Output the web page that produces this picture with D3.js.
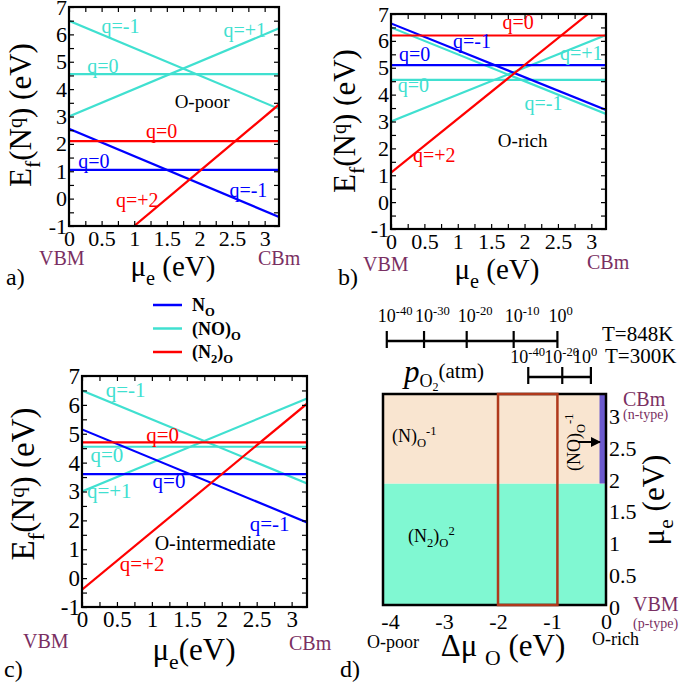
<!DOCTYPE html>
<html><head><meta charset="utf-8">
<script src="https://cdn.jsdelivr.net/npm/d3@7"></script>
<style>
body{margin:0;background:#fff}
svg{display:block}
text{font-family:'Liberation Serif','DejaVu Serif',serif}
</style>
</head><body><script>
// ---------------- DATA ----------------
const bandGap = 3.22;                       // mu_e range (VBM -> CBm), eV
const defectSpecies = ["N_O","N_O","(NO)_O","(NO)_O","(NO)_O","(N2)_O","(N2)_O"];
const defectCharges = [-1, 0, -1, 0, 1, 0, 2];
// formation energy at the VBM (mu_e = 0) for each defect/charge, eV
const formationAtVBM_Opoor = [2.55, 1.05, 6.5, 4.55, 3.0, 2.1, -3.0];
const formationAtVBM_Orich = [6.65, 5.1, 6.5, 4.55, 3.0, 6.2, 1.1];
const formationAtVBM_Ointer = [5.15, 3.6, 6.5, 4.55, 3.0, 4.7, -0.4];
const speciesNames = ["N_O", "(NO)_O", "(N2)_O"];
const speciesColors = ["#0000ff", "#40e0d0", "#ff0000"];
const muTickLabels = [0, 0.5, 1, 1.5, 2, 2.5, 3];
const energyTickLabels = [-1, 0, 1, 2, 3, 4, 5, 6, 7];

// charge-state annotations: [text, species, mu_e, E]
const labelsOpoor = [
  ["q=-1","(NO)_O",0.5,6.06],["q=+1","(NO)_O",2.37,5.91],["q=0","(NO)_O",0.28,4.59],
  ["q=0","(N2)_O",1.18,2.21],["q=0","N_O",0.14,1.11],["q=-1","N_O",2.46,0.05],
  ["q=+2","(N2)_O",0.72,-0.31]];
const labelsOrich = [
  ["q=0","(N2)_O",1.67,6.44],["q=-1","N_O",0.93,5.74],["q=0","N_O",0.12,5.25],
  ["q=+1","(NO)_O",2.53,5.29],["q=0","(NO)_O",0.10,4.1],["q=-1","(NO)_O",2.0,3.43],
  ["q=+2","(N2)_O",0.33,1.5]];
const labelsOinter = [
  ["q=-1","(NO)_O",0.34,6.27],["q=0","(N2)_O",0.92,4.73],["q=0","(NO)_O",0.12,4.03],
  ["q=0","N_O",1.01,3.11],["q=+1","(NO)_O",0.07,2.77],["q=-1","N_O",2.4,1.64],
  ["q=+2","(N2)_O",0.54,0.23]];

// phase diagram (panel d)
const dmuDomain = [-4.13, 0];
const dmuTickLabels = [-4, -3, -2, -1, 0];
const muE_dDomain = [0, 3.3];
const muE_dTickLabels = [0, 0.5, 1, 1.5, 2, 2.5, 3];
const phaseBoundaryMuE = 1.9;        // (N2)_O^+2 / N_O^-1 transition level
const noStripDmu = -0.12;            // (NO)_O^-1 stable region starts here
const highlightDmu = [-2.0, -0.9];   // red box
const pO2Exp848 = [-40, -30, -20, -10, 0];
const pO2Dmu848 = [-4.06, -3.37, -2.58, -1.71, -0.90];
const pO2Exp300 = [-40, -20, 0];
const pO2Dmu300 = [-1.44, -0.81, -0.28];

// ---------------- DRAWING ----------------
const FONT = "'Liberation Serif','DejaVu Serif',serif";
const svg = d3.select("body").append("svg").attr("width", 685).attr("height", 685)
  .attr("font-family", FONT);
const colorOf = sp => speciesColors[speciesNames.indexOf(sp)];
const PURPLE = "#7a2f62";

function richText(sel, parts, supShift) {
  let cur = 0;
  const base = parseFloat(sel.attr("font-size"));
  parts.forEach(([t, kind, f]) => {
    const fs = base * (f || 1);
    const target = kind === "sub" ? 0.3 * base : kind === "sup" ? -(supShift || 0.4) * base : 0;
    sel.append("tspan").attr("dy", target - cur).attr("font-size", fs).text(t);
    cur = target;
  });
}

function linePanel(o) {
  const x = d3.scaleLinear().domain([0, bandGap]).range([o.l, o.r]);
  const y = d3.scaleLinear().domain([-1, 7]).range([o.b, o.t]);
  const g = svg.append("g");
  g.append("clipPath").attr("id", o.id).append("rect")
    .attr("x", o.l).attr("y", o.t).attr("width", o.r - o.l).attr("height", o.b - o.t);

  const line = d3.line().x(d => x(d[0])).y(d => y(d[1]));
  const order = [2, 3, 4, 1, 0, 5, 6];
  g.append("g").attr("clip-path", `url(#${o.id})`).selectAll("path")
    .data(order).join("path")
    .attr("d", i => line([[0, o.e0[i]], [bandGap, o.e0[i] + defectCharges[i] * bandGap]]))
    .attr("fill", "none").attr("stroke", i => colorOf(defectSpecies[i])).attr("stroke-width", 2.2);

  const fmtX = v => muTickLabels.includes(v) ? String(v) : "";
  const fmtY = v => energyTickLabels.includes(v) ? String(v) : "";
  const xt = d3.range(0, bandGap, 0.25), yt = d3.range(-1, 7.01, 0.5);
  const ax = [
    g.append("g").attr("transform", `translate(0,${o.b})`).call(d3.axisBottom(x).tickValues(xt).tickFormat(fmtX).tickSizeInner(-5).tickSizeOuter(0).tickPadding(4)),
    g.append("g").attr("transform", `translate(0,${o.t})`).call(d3.axisTop(x).tickValues(xt).tickFormat("").tickSizeInner(-5).tickSizeOuter(0)),
    g.append("g").attr("transform", `translate(${o.l},0)`).call(d3.axisLeft(y).tickValues(yt).tickFormat(fmtY).tickSizeInner(-5).tickSizeOuter(0).tickPadding(2)),
    g.append("g").attr("transform", `translate(${o.r},0)`).call(d3.axisRight(y).tickValues(yt).tickFormat("").tickSizeInner(-5).tickSizeOuter(0))
  ];
  ax.forEach(a => {
    a.attr("font-family", FONT);
    a.select(".domain").remove();
    a.selectAll("line").attr("stroke", "#000").attr("stroke-width", 1.2);
    a.selectAll("text").attr("font-size", o.tickSize).attr("fill", "#000");
  });
  g.append("rect").attr("x", o.l).attr("y", o.t).attr("width", o.r - o.l).attr("height", o.b - o.t)
    .attr("fill", "none").attr("stroke", "#000").attr("stroke-width", 2.2);

  g.selectAll("text.lab").data(o.labels).join("text").attr("class", "lab")
    .attr("x", d => x(d[2])).attr("y", d => y(d[3]))
    .attr("fill", d => colorOf(d[1])).attr("font-size", o.labSize).text(d => d[0]);
  g.append("text").attr("x", x(o.cond[0])).attr("y", y(o.cond[1]))
    .attr("font-size", o.labSize - 1).attr("fill", "#000").text(o.cond[2]);

  g.append("text").attr("x", o.vbm[0]).attr("y", o.vbm[1]).attr("font-size", 20).attr("fill", PURPLE).text("VBM");
  g.append("text").attr("x", o.cbm[0]).attr("y", o.cbm[1]).attr("font-size", 20).attr("fill", PURPLE).text("CBm");

  const xtxt = g.append("text").attr("x", o.xt[0]).attr("y", o.xt[1]).attr("text-anchor", "middle")
    .attr("font-size", o.xt[2]);
  richText(xtxt, [["μ"], ["e", "sub", 0.7], [o.xt[3], null]]);

  const ytxt = g.append("text").attr("transform", `translate(${o.yt[0]},${o.yt[1]}) rotate(-90)`)
    .attr("text-anchor", "middle").attr("font-size", o.yt[2]);
  richText(ytxt, [["E"], ["f", "sub", 0.7], ["(N", null], ["q", "sup", 0.65], [") (eV)", null]], 0.3);

  g.append("text").attr("x", o.tag[0]).attr("y", o.tag[1]).attr("font-size", 24).text(o.tag[2]);
}

linePanel({id: "ca", l: 69, r: 279, t: 7, b: 226, e0: formationAtVBM_Opoor, labels: labelsOpoor,
  cond: [1.62, 3.31, "O-poor"], labSize: 20, tickSize: 22,
  vbm: [39, 265], cbm: [258, 265], xt: [173, 276, 29, " (eV)"], yt: [31, 115, 31], tag: [6, 285, "a)"]});
linePanel({id: "cb", l: 391, r: 606, t: 14, b: 229, e0: formationAtVBM_Orich, labels: labelsOrich,
  cond: [1.6, 2.06, "O-rich"], labSize: 20, tickSize: 22,
  vbm: [363, 271], cbm: [587, 269], xt: [497, 279, 29, " (eV)"], yt: [355, 121, 31], tag: [338, 285, "b)"]});
linePanel({id: "cc", l: 82, r: 307, t: 376, b: 607, e0: formationAtVBM_Ointer, labels: labelsOinter,
  cond: [1.04, 0.98, "O-intermediate"], labSize: 21, tickSize: 23,
  vbm: [23, 648], cbm: [289, 650], xt: [194, 660, 31, "(eV)"], yt: [34, 484, 33], tag: [4, 677, "c)"]});

// legend
const lg = svg.append("g");
const legendLabels = [[["N"], ["O", "sub", 0.7]], [["(NO)"], ["O", "sub", 0.7]],
                      [["(N"], ["2", "sub", 0.7], [")", null], ["O", "sub", 0.7]]];
speciesNames.forEach((sp, i) => {
  const yy = 305 + i * 23.5;
  lg.append("line").attr("x1", 153).attr("x2", 182).attr("y1", yy).attr("y2", yy)
    .attr("stroke", speciesColors[i]).attr("stroke-width", 2.5);
  const t = lg.append("text").attr("x", 192).attr("y", yy + 6).attr("font-size", 18).attr("font-weight", "bold");
  richText(t, legendLabels[i]);
});

// ---------------- panel d ----------------
(function () {
  const L = 383, R = 606, T = 394, B = 605;
  const x = d3.scaleLinear().domain(dmuDomain).range([L, R]);
  const y = d3.scaleLinear().domain(muE_dDomain).range([B, T]);
  const g = svg.append("g");
  g.append("rect").attr("x", x(dmuDomain[0])).attr("y", y(phaseBoundaryMuE)).attr("width", x(0) - x(dmuDomain[0]))
    .attr("height", y(0) - y(phaseBoundaryMuE)).attr("fill", "#80f8d2");
  g.append("rect").attr("x", x(dmuDomain[0])).attr("y", y(muE_dDomain[1])).attr("width", x(0) - x(dmuDomain[0]))
    .attr("height", y(phaseBoundaryMuE) - y(muE_dDomain[1])).attr("fill", "#f9e5d0");
  g.append("rect").attr("x", x(noStripDmu)).attr("y", y(muE_dDomain[1])).attr("width", x(0) - x(noStripDmu))
    .attr("height", y(phaseBoundaryMuE) - y(muE_dDomain[1])).attr("fill", "#6b5acd");
  g.append("rect").attr("x", L).attr("y", T).attr("width", R - L).attr("height", B - T)
    .attr("fill", "none").attr("stroke", "#000").attr("stroke-width", 2.5);
  g.append("rect").attr("x", x(highlightDmu[0])).attr("y", y(muE_dDomain[1]))
    .attr("width", x(highlightDmu[1]) - x(highlightDmu[0])).attr("height", y(0) - y(muE_dDomain[1]))
    .attr("fill", "none").attr("stroke", "#b0391c").attr("stroke-width", 2.5);

  const xa = g.append("g").attr("transform", `translate(0,${B})`)
    .call(d3.axisBottom(x).tickValues(dmuTickLabels).tickFormat(String).tickSize(0).tickPadding(8));
  const ya = g.append("g").attr("transform", `translate(${R},0)`)
    .call(d3.axisRight(y).tickValues(muE_dTickLabels).tickFormat(String).tickSize(0).tickPadding(3));
  [xa, ya].forEach(a => {
    a.attr("font-family", FONT);
    a.select(".domain").remove();
    a.selectAll("text").attr("font-size", 22).attr("fill", "#000");
  });
  ya.selectAll("text").attr("dy", "0.45em");

  const t1 = g.append("text").attr("x", 392).attr("y", 442).attr("font-size", 18);
  richText(t1, [["(N)"], ["O", "sub", 0.7], ["-1", "sup", 0.7]]);
  const t2 = g.append("text").attr("x", 408).attr("y", 542).attr("font-size", 18);
  richText(t2, [["(N"], ["2", "sub", 0.7], [")", null], ["O", "sub", 0.7], ["2", "sup", 0.7]]);
  const t3 = g.append("text").attr("transform", "translate(580,471) rotate(-90)").attr("font-size", 18);
  richText(t3, [["(NO)"], ["O", "sub", 0.7], ["-1", "sup", 0.7]]);
  svg.append("defs").append("marker").attr("id", "arr").attr("viewBox", "0 0 10 10").attr("refX", 9).attr("refY", 5)
    .attr("markerWidth", 5).attr("markerHeight", 5).attr("orient", "auto")
    .append("path").attr("d", "M0,0L10,5L0,10z").attr("fill", "#000");
  g.append("line").attr("x1", 578).attr("x2", 600).attr("y1", 442).attr("y2", 442)
    .attr("stroke", "#000").attr("stroke-width", 2).attr("marker-end", "url(#arr)");

  g.append("text").attr("x", 623).attr("y", 406).attr("font-size", 20).attr("fill", PURPLE).text("CBm");
  g.append("text").attr("x", 623).attr("y", 419).attr("font-size", 14).attr("fill", PURPLE).text("(n-type)");
  g.append("text").attr("x", 633).attr("y", 611).attr("font-size", 20).attr("fill", PURPLE).text("VBM");
  g.append("text").attr("x", 633).attr("y", 628).attr("font-size", 14).attr("fill", PURPLE).text("(p-type)");
  const yt = g.append("text").attr("transform", "translate(664,500) rotate(-90)").attr("text-anchor", "middle").attr("font-size", 31);
  richText(yt, [["μ"], ["e", "sub", 0.7], [" (eV)", null]]);

  g.append("text").attr("x", 367).attr("y", 648).attr("font-size", 18).text("O-poor");
  g.append("text").attr("x", 592).attr("y", 645).attr("font-size", 18).text("O-rich");
  const xt = g.append("text").attr("x", 503).attr("y", 656).attr("text-anchor", "middle").attr("font-size", 31);
  richText(xt, [["Δμ "], ["O", "sub", 0.7], [" (eV)", null]]);
  g.append("text").attr("x", 340).attr("y", 677).attr("font-size", 24).text("d)");

  function pScale(exps, dmus, yLine, labOff, labY) {
    const s = g.append("g");
    s.append("line").attr("x1", x(dmus[0])).attr("x2", x(dmus[dmus.length - 1]))
      .attr("y1", yLine).attr("y2", yLine).attr("stroke", "#000").attr("stroke-width", 2.5);
    s.selectAll("line.tk").data(dmus).join("line").attr("class", "tk")
      .attr("x1", d => x(d)).attr("x2", d => x(d)).attr("y1", yLine - 10).attr("y2", yLine + 7)
      .attr("stroke", "#000").attr("stroke-width", 2.2);
    exps.forEach((e, i) => {
      const t = s.append("text").attr("x", x(dmus[i]) + labOff).attr("y", labY).attr("font-size", 18);
      richText(t, [["10"], [String(e), "sup", 0.7]]);
    });
  }
  pScale(pO2Exp848, pO2Dmu848, 341, -9, 322);
  pScale(pO2Exp300, pO2Dmu300, 377, -18, 363);
  g.append("text").attr("x", 602).attr("y", 341).attr("font-size", 21).text("T=848K");
  g.append("text").attr("x", 605).attr("y", 363).attr("font-size", 21).text("T=300K");
  const pt = g.append("text").attr("x", 404).attr("y", 382).attr("font-size", 31);
  pt.append("tspan").attr("font-style", "italic").text("p");
  pt.append("tspan").attr("font-size", 18).attr("dy", 5).text("O");
  pt.append("tspan").attr("font-size", 12).attr("dy", 4).text("2");
  pt.append("tspan").attr("font-size", 21).attr("dy", -13).text("(atm)");
})();
</script></body></html>
